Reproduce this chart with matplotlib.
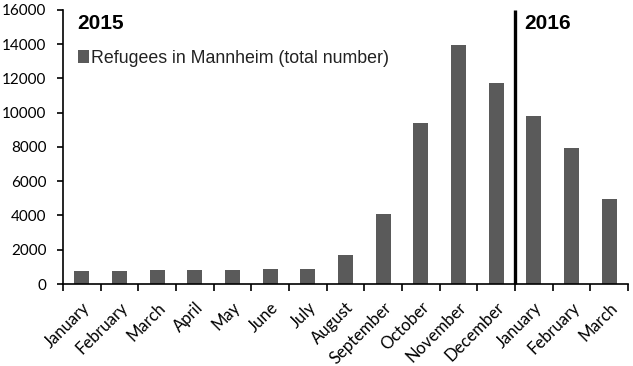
import matplotlib
matplotlib.use("Agg")
import matplotlib.pyplot as plt
from matplotlib.patches import Patch
from matplotlib.transforms import ScaledTranslation

months = ["January", "February", "March", "April", "May", "June", "July",
          "August", "September", "October", "November", "December",
          "January", "February", "March"]
refugees = [740, 780, 840, 840, 840, 880, 880, 1680, 4060, 9370, 13970,
            11730, 9800, 7910, 4990]
yticks = [0, 2000, 4000, 6000, 8000, 10000, 12000, 14000, 16000]
year_labels = ["2015", "2016"]
legend_label = "Refugees in Mannheim (total number)"

bar_color = "#5a5a5a"
tick_font = "Lato"

fig = plt.figure(figsize=(6.33, 3.66), dpi=100)
ax = fig.add_axes([0.0995, 0.224, 0.8925, 0.749])

x = list(range(len(months)))
ax.bar(x, refugees, width=0.4, color=bar_color, zorder=2)

ax.set_xlim(-0.5, len(months) - 0.5)
ax.set_ylim(0, 16000)
ax.set_yticks(yticks)
ax.set_yticklabels([str(v) for v in yticks], fontsize=11, family=tick_font)

ax.set_xticks(x)
ax.set_xticklabels(months, rotation=45, ha="right", rotation_mode="anchor",
                   fontsize=12, family=tick_font)
offset = ScaledTranslation(3 / 100, 0, fig.dpi_scale_trans)
for lbl in ax.get_xticklabels():
    lbl.set_transform(lbl.get_transform() + offset)
ax.tick_params(axis="x", which="major", length=0, pad=11)
ax.set_xticks([i - 0.5 for i in range(len(months) + 1)], minor=True)
ax.tick_params(axis="x", which="minor", length=5, width=1.2, direction="out")
ax.tick_params(axis="y", length=4, width=1.2, direction="out", pad=8)

for s in ["top", "right"]:
    ax.spines[s].set_visible(False)
for s in ["left", "bottom"]:
    ax.spines[s].set_linewidth(1.2)

ax.plot([11.5, 11.5], [0, 16000], color="black", linewidth=2.4,
        solid_capstyle="butt", zorder=3, clip_on=False)

fig.text(77 / 633, 1 - 14 / 366, year_labels[0], fontsize=15,
         fontweight="bold", family="Liberation Sans", va="top", ha="left")
fig.text(524 / 633, 1 - 14 / 366, year_labels[1], fontsize=15,
         fontweight="bold", family="Liberation Sans", va="top", ha="left")

handle = Patch(facecolor=bar_color, edgecolor="none")
leg = ax.legend([handle], [legend_label], loc="upper left",
                bbox_to_anchor=(78 / 633, 1 - 50 / 366),
                bbox_transform=fig.transFigure, frameon=False,
                handlelength=0.6, handleheight=0.75, handletextpad=0.15,
                borderpad=0, borderaxespad=0,
                prop={"family": "Liberation Sans", "size": 12.8})
for t in leg.get_texts():
    t.set_color("#222222")

fig.savefig("out.png", dpi=100)
